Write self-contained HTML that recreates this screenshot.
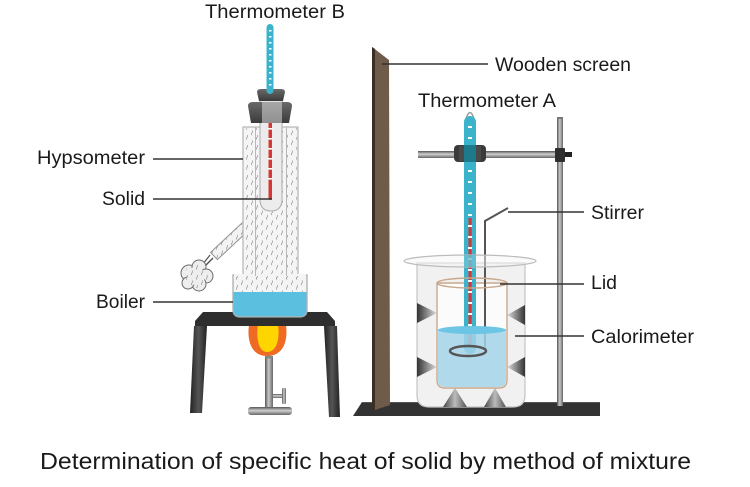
<!DOCTYPE html>
<html><head><meta charset="utf-8">
<style>html,body{margin:0;padding:0;background:#fff}svg{display:block}</style>
</head>
<body>
<svg width="750" height="487" viewBox="0 0 750 487" xmlns="http://www.w3.org/2000/svg" font-family="'Liberation Sans', sans-serif">
<defs>
  <pattern id="sq" width="10" height="10" patternUnits="userSpaceOnUse">
    <path d="M2,0.5 q1.4,1.1 0,2.3 q-1.4,1.1 0,2.3" fill="none" stroke="#9a9a9a" stroke-width="0.7"/>
    <path d="M7,5 q1.4,1.1 0,2.3 q-1.4,1.1 0,2.3" fill="none" stroke="#9a9a9a" stroke-width="0.7"/>
  </pattern>
  <linearGradient id="rodH" x1="0" x2="1" y1="0" y2="0">
    <stop offset="0" stop-color="#555"/><stop offset="0.45" stop-color="#c9c9c9"/><stop offset="1" stop-color="#666"/>
  </linearGradient>
  <linearGradient id="rodV" x1="0" x2="0" y1="0" y2="1">
    <stop offset="0" stop-color="#555"/><stop offset="0.45" stop-color="#cfcfcf"/><stop offset="1" stop-color="#666"/>
  </linearGradient>
  <linearGradient id="legG" x1="0" x2="1" y1="0" y2="0">
    <stop offset="0" stop-color="#222"/><stop offset="0.5" stop-color="#555"/><stop offset="1" stop-color="#222"/>
  </linearGradient>
  <linearGradient id="stopG" x1="0" x2="0" y1="0" y2="1">
    <stop offset="0" stop-color="#6a6a6a"/><stop offset="1" stop-color="#3a3a3a"/>
  </linearGradient>
  <linearGradient id="triL" x1="0" x2="1" y1="0" y2="0">
    <stop offset="0" stop-color="#333"/><stop offset="1" stop-color="#ddd"/>
  </linearGradient>
  <linearGradient id="triR" x1="1" x2="0" y1="0" y2="0">
    <stop offset="0" stop-color="#333"/><stop offset="1" stop-color="#ddd"/>
  </linearGradient>
  <linearGradient id="triU" x1="0" x2="1" y1="0" y2="0">
    <stop offset="0" stop-color="#444"/><stop offset="0.5" stop-color="#bbb"/><stop offset="1" stop-color="#555"/>
  </linearGradient>
</defs>

<!-- ============ LABELS ============ -->
<g fill="#1a1a1a" font-size="19">
  <text x="205" y="18" textLength="140" lengthAdjust="spacingAndGlyphs">Thermometer B</text>
  <text x="495" y="71" textLength="136" lengthAdjust="spacingAndGlyphs">Wooden screen</text>
  <text x="418" y="107" textLength="138" lengthAdjust="spacingAndGlyphs">Thermometer A</text>
  <text x="37" y="164" textLength="108" lengthAdjust="spacingAndGlyphs">Hypsometer</text>
  <text x="102" y="205" textLength="43" lengthAdjust="spacingAndGlyphs">Solid</text>
  <text x="96" y="308" textLength="49" lengthAdjust="spacingAndGlyphs">Boiler</text>
  <text x="591" y="219" textLength="53" lengthAdjust="spacingAndGlyphs">Stirrer</text>
  <text x="591" y="289" textLength="26" lengthAdjust="spacingAndGlyphs">Lid</text>
  <text x="591" y="343" textLength="103" lengthAdjust="spacingAndGlyphs">Calorimeter</text>
</g>
<text x="40" y="469" font-size="23" fill="#1a1a1a" textLength="651" lengthAdjust="spacingAndGlyphs">Determination of specific heat of solid by method of mixture</text>

<!-- ============ RIGHT APPARATUS ============ -->
<polygon points="362,402 600,402 600,416 353,416" fill="#333"/>
<line x1="362" y1="402.5" x2="600" y2="402.5" stroke="#555" stroke-width="1"/>
<polygon points="372,47 389,60 390,405 372,411" fill="#6e5b49"/>
<polygon points="372,47 375,49 375,410 372,411" fill="#3b2f25"/>
<rect x="557" y="118" width="6" height="288" fill="url(#rodH)"/>
<rect x="557" y="117" width="6" height="2" fill="#777"/>
<rect x="418" y="151" width="140" height="7" fill="url(#rodV)"/>
<rect x="555" y="148" width="10" height="14" rx="1" fill="#2e2e2e"/>
<rect x="565" y="152" width="7" height="5" fill="#222"/>
<rect x="454" y="145" width="32" height="17" rx="4" fill="#3a3a3a"/>
<rect x="459" y="146" width="22" height="15" fill="#4a4a4a"/>

<path d="M417,263 L417,395 Q417,407 429,407 L513,407 Q525,407 525,395 L525,263 Z" fill="#f1f1f1" stroke="#c4c4c4" stroke-width="1.2"/>
<polygon points="417,303 437,313 417,323" fill="url(#triL)"/>
<polygon points="417,357 437,367 417,377" fill="url(#triL)"/>
<polygon points="525,305 507,315 525,325" fill="url(#triR)"/>
<polygon points="525,357 507,367 525,377" fill="url(#triR)"/>
<polygon points="455,388 443,407 467,407" fill="url(#triU)"/>
<polygon points="495,388 484,407 506,407" fill="url(#triU)"/>
<path d="M437,283 L437,380 Q437,388 445,388 L499,388 Q507,388 507,380 L507,283 Z" fill="#fbfbfb" stroke="#c9a88c" stroke-width="1.4"/>

<path d="M466,119 Q470,106 474,119" fill="none" stroke="#999" stroke-width="1.5"/>
<rect x="464" y="116" width="12" height="238" rx="6" fill="#3cb3cb"/>
<rect x="464" y="145" width="12" height="17" fill="#1d7a8b"/>
<rect x="468.5" y="218" width="3.2" height="130" fill="#d33a36"/>
<g fill="#fff">
  <rect x="468" y="126" width="4" height="2"/><rect x="468" y="137" width="4" height="2"/>
  <rect x="468" y="170" width="4" height="2"/><rect x="468" y="181" width="4" height="2"/>
  <rect x="468" y="192" width="4" height="2"/><rect x="468" y="203" width="4" height="2"/>
  <rect x="468" y="214" width="4" height="2"/><rect x="468" y="225" width="4" height="2"/>
  <rect x="468" y="236" width="4" height="2"/><rect x="468" y="247" width="4" height="2"/>
  <rect x="468" y="258" width="4" height="2"/><rect x="468" y="269" width="4" height="2"/>
  <rect x="468" y="280" width="4" height="2"/><rect x="468" y="291" width="4" height="2"/>
  <rect x="468" y="302" width="4" height="2"/><rect x="468" y="313" width="4" height="2"/>
  <rect x="468" y="324" width="4" height="2"/>
</g>
<polyline points="508,208 485,221 485,350" fill="none" stroke="#555" stroke-width="2"/>

<path d="M438,330 L438,380 Q438,387 445,387 L499,387 Q506,387 506,380 L506,330 Z" fill="#a2d4e7" fill-opacity="0.85"/>
<ellipse cx="472" cy="330" rx="34" ry="4" fill="#6cc5e4"/>
<ellipse cx="468" cy="351" rx="18" ry="5" fill="none" stroke="#555" stroke-width="2.5"/>
<ellipse cx="472" cy="283" rx="35" ry="5" fill="none" stroke="#c9a88c" stroke-width="1.4"/>
<ellipse cx="470" cy="261" rx="66" ry="6" fill="#f6f6f6" fill-opacity="0.5" stroke="#bcbcbc" stroke-width="1.2"/>
<rect x="464" y="255" width="12" height="12" fill="#3cb3cb" fill-opacity="0.6"/>

<!-- ============ LEFT APPARATUS ============ -->
<polygon points="194,326 207,326 202,413 190,413" fill="url(#legG)"/>
<polygon points="324,326 337,326 340,417 329,417" fill="url(#legG)"/>
<path d="M267,356 C250,356 247,338 249,325 L286,325 C288,340 284,356 267,356 Z" fill="#ef6a22"/>
<path d="M267,352 C258,352 256,336 258,325 L278,325 C280,338 277,352 267,352 Z" fill="#ffd500"/>
<rect x="265" y="356" width="8" height="53" fill="url(#rodH)"/>
<ellipse cx="269" cy="357" rx="4" ry="1.5" fill="#888"/>
<rect x="273" y="394" width="10" height="4" fill="url(#rodV)"/>
<rect x="282" y="388" width="4" height="16" rx="1" fill="url(#rodH)"/>
<rect x="248" y="407" width="44" height="8" rx="3" fill="url(#rodV)"/>
<polygon points="203,312 327,312 335,321 335,326 195,326 195,321" fill="#2e2e2e"/>

<!-- side tube -->
<polygon points="249.4,229.6 242.6,222.4 210.6,252.4 217.4,259.6" fill="#f3f3f3" stroke="#8f8f8f" stroke-width="1"/>
<polygon points="249.4,229.6 242.6,222.4 210.6,252.4 217.4,259.6" fill="url(#sq)"/>
<line x1="213" y1="258" x2="205" y2="266" stroke="#555" stroke-width="1.5"/>
<line x1="210" y1="255" x2="203" y2="264" stroke="#555" stroke-width="1.2"/>
<!-- cotton ball -->
<g fill="#eeeeee" stroke="#6a6a6a" stroke-width="1">
  <circle cx="189" cy="273" r="8"/>
  <circle cx="199" cy="267" r="7"/>
  <circle cx="206" cy="276" r="7"/>
  <circle cx="199" cy="284" r="7"/>
  <circle cx="188" cy="283" r="6"/>
</g>
<circle cx="196" cy="276" r="9" fill="#eeeeee"/>
<circle cx="196" cy="276" r="12" fill="url(#sq)"/>

<!-- boiler -->
<path d="M233,275 L307,275 L307,310 Q307,317 300,317 L240,317 Q233,317 233,310 Z" fill="#f4f4f4" stroke="#a8a8a8" stroke-width="1.2"/>
<rect x="234" y="276" width="72" height="16" fill="url(#sq)"/>
<path d="M233.6,292 L306.4,292 L306.4,310 Q306.4,316.4 300,316.4 L240,316.4 Q233.6,316.4 233.6,310 Z" fill="#5bbfe0"/>
<!-- outer jacket -->
<rect x="243" y="127" width="55" height="149" fill="#f5f5f5" stroke="#b4b4b4" stroke-width="1.2"/>
<rect x="244" y="128" width="53" height="147" fill="url(#sq)"/>
<rect x="234" y="274" width="72" height="3" fill="#f4f4f4"/>
<rect x="234" y="276" width="72" height="3" fill="url(#sq)"/>
<line x1="255.5" y1="127" x2="255.5" y2="276" stroke="#b8b8b8" stroke-width="1"/>
<line x1="286.5" y1="127" x2="286.5" y2="276" stroke="#b8b8b8" stroke-width="1"/>
<!-- test tube -->
<path d="M260,100 L260,199 Q260,211 271,211 Q282,211 282,199 L282,100 Z" fill="#ececec" stroke="#b0b0b0" stroke-width="1.1"/>
<rect x="268.5" y="108" width="3.5" height="92" rx="1.7" fill="#d33a36"/>
<g fill="#fff">
  <rect x="268" y="118" width="4.5" height="1.6"/><rect x="268" y="128" width="4.5" height="1.6"/>
  <rect x="268" y="138" width="4.5" height="1.6"/><rect x="268" y="148" width="4.5" height="1.6"/>
  <rect x="268" y="158" width="4.5" height="1.6"/><rect x="268" y="168" width="4.5" height="1.6"/>
  <rect x="268" y="178" width="4.5" height="1.6"/>
</g>
<!-- stoppers -->
<path d="M248,106 Q248,102 253,102 L287,102 Q292,102 292,106 L289,123 L251,123 Z" fill="url(#stopG)"/>
<rect x="262" y="100" width="20" height="23" fill="#d8d8d8" fill-opacity="0.55"/>
<path d="M257,92 Q257,89 261,89 L281,89 Q285,89 285,92 L283,101 L259,101 Z" fill="url(#stopG)"/>
<!-- thermometer B -->
<rect x="266.5" y="24" width="7" height="70" rx="3.5" fill="#3cb3cb"/>
<g fill="#fff">
  <rect x="269" y="30" width="2.5" height="1.5"/><rect x="269" y="36" width="2.5" height="1.5"/>
  <rect x="269" y="42" width="2.5" height="1.5"/><rect x="269" y="48" width="2.5" height="1.5"/>
  <rect x="269" y="54" width="2.5" height="1.5"/><rect x="269" y="60" width="2.5" height="1.5"/>
  <rect x="269" y="66" width="2.5" height="1.5"/><rect x="269" y="72" width="2.5" height="1.5"/>
  <rect x="269" y="78" width="2.5" height="1.5"/><rect x="269" y="84" width="2.5" height="1.5"/>
</g>

<!-- ============ LEADER LINES ============ -->
<g stroke="#333" stroke-width="1.6">
  <line x1="153" y1="159" x2="243" y2="159"/>
  <line x1="153" y1="199" x2="272" y2="199"/>
  <line x1="153" y1="302" x2="233" y2="302"/>
  <line x1="382" y1="64" x2="488" y2="64"/>
  <line x1="508" y1="212" x2="584" y2="212"/>
  <line x1="500" y1="284" x2="584" y2="284"/>
  <line x1="515" y1="336" x2="584" y2="336"/>
</g>
</svg>
</body></html>
